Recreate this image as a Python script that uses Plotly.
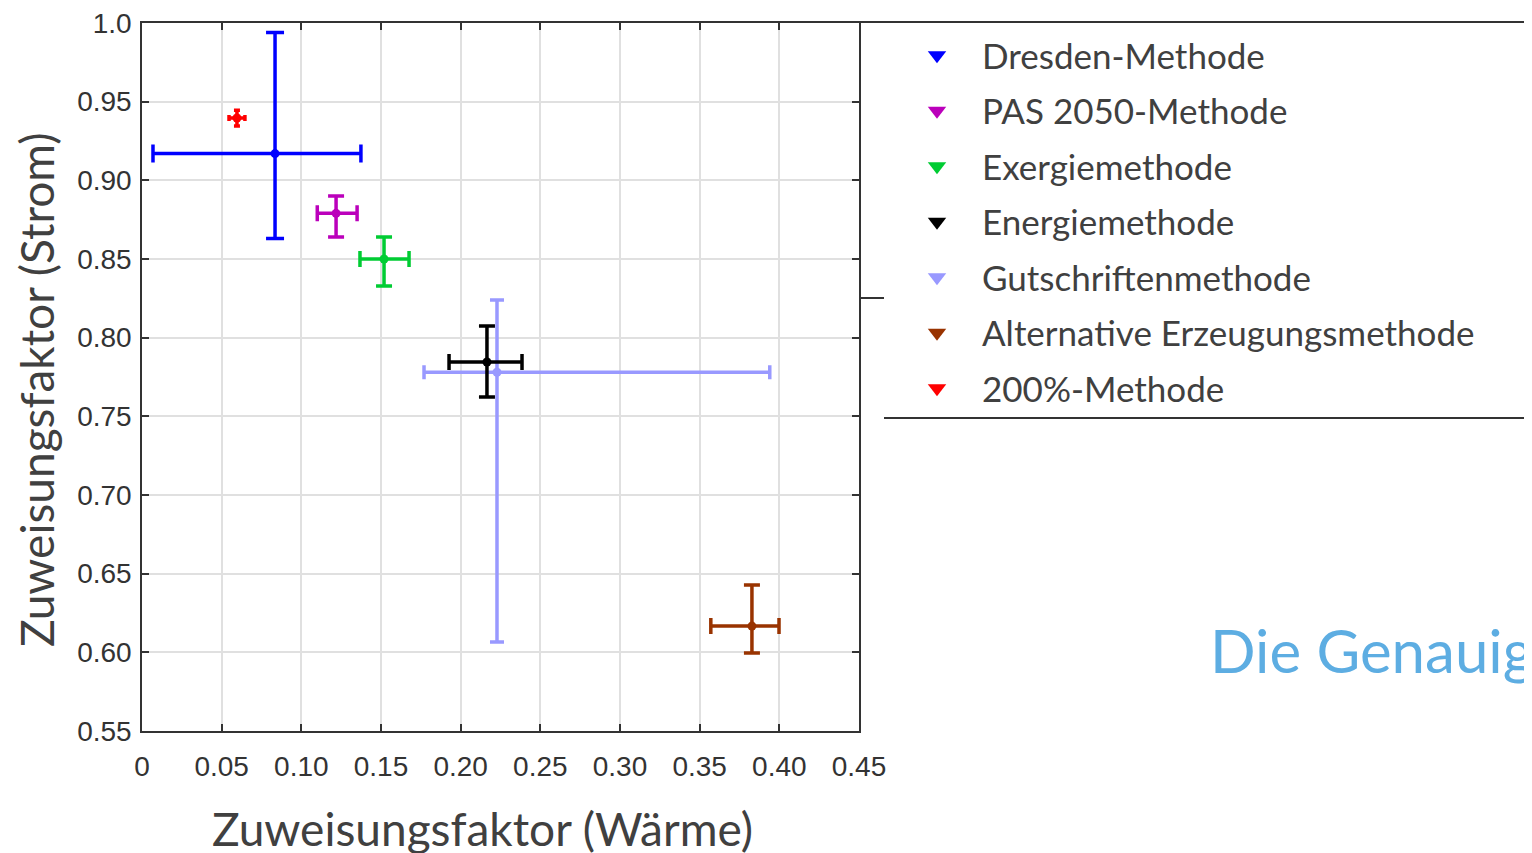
import plotly.graph_objects as go

# ---- data ----
methods = ["Dresden-Methode", "PAS 2050-Methode", "Exergiemethode", "Energiemethode",
           "Gutschriftenmethode", "Alternative Erzeugungsmethode", "200%-Methode"]
colors = ["#0000FF", "#BB00BB", "#00CC33", "#000000", "#9999FF", "#993300", "#FF0000"]
x_val = [0.0835, 0.1218, 0.1519, 0.2165, 0.2228, 0.3828, 0.0596]
y_val = [0.917, 0.879, 0.850, 0.7845, 0.778, 0.6167, 0.9396]
x_lo = [0.0069, 0.110, 0.1368, 0.1927, 0.177, 0.357, 0.0546]
x_hi = [0.1374, 0.135, 0.1676, 0.2385, 0.394, 0.3998, 0.0646]
y_lo = [0.863, 0.864, 0.8328, 0.7623, 0.6066, 0.5996, 0.9346]
y_hi = [0.994, 0.890, 0.864, 0.8074, 0.824, 0.6428, 0.9446]
cap_w = [9, 8, 8, 8, 7, 8, 3]
draw_order = [0, 1, 2, 4, 3, 5, 6]

x_ticks = [0, 0.05, 0.10, 0.15, 0.20, 0.25, 0.30, 0.35, 0.40, 0.45]
x_ticktext = ["0", "0.05", "0.10", "0.15", "0.20", "0.25", "0.30", "0.35", "0.40", "0.45"]
y_ticks = [0.55, 0.60, 0.65, 0.70, 0.75, 0.80, 0.85, 0.90, 0.95, 1.0]
y_ticktext = ["0.55", "0.60", "0.65", "0.70", "0.75", "0.80", "0.85", "0.90", "0.95", "1.0"]

x_title = "Zuweisungsfaktor (Wärme)"
y_title = "Zuweisungsfaktor (Strom)"
side_text = "Die Genauig"

fig = go.Figure()

for i in draw_order:
    fig.add_trace(go.Scatter(
        x=[x_val[i]], y=[y_val[i]], mode="markers", showlegend=False,
        marker=dict(color=colors[i], size=9, symbol="circle"),
        error_x=dict(type="data", symmetric=False,
                     array=[x_hi[i] - x_val[i]], arrayminus=[x_val[i] - x_lo[i]],
                     color=colors[i], thickness=3.5, width=cap_w[i]),
        error_y=dict(type="data", symmetric=False,
                     array=[y_hi[i] - y_val[i]], arrayminus=[y_val[i] - y_lo[i]],
                     color=colors[i], thickness=3.5, width=cap_w[i]),
    ))

for i, m in enumerate(methods):
    fig.add_trace(go.Scatter(
        x=[None], y=[None], mode="markers", name=m, legendgroup=m,
        marker=dict(color=colors[i], size=20, symbol="triangle-down"),
    ))

axis_common = dict(showline=True, linecolor="#333333", linewidth=1.5, mirror="ticks",
                   ticks="inside", ticklen=7, tickcolor="#333333", tickwidth=1.5,
                   showgrid=True, gridcolor="#e0e0e0", gridwidth=1.5, zeroline=False,
                   ticklabeloverflow="allow", automargin=False,
                   tickfont=dict(family="Liberation Sans, Arial", size=28, color="#333333"))

fig.update_xaxes(range=[0, 0.45], tickvals=x_ticks, ticktext=x_ticktext,
                 ticklabelstandoff=10, **axis_common)
fig.update_yaxes(range=[0.55, 1.0], tickvals=y_ticks, ticktext=y_ticktext,
                 ticklabelstandoff=3, **axis_common)

W, H = 1532, 853
DX, DY = 7, 8           # page-to-screenshot offset (body margin)
L, T = 141 - DX, 23 - DY
pw, ph = 717, 708
R, B = W - L - pw, H - T - ph

def px(xs):
    return (xs - DX - L) / pw

def py(ys):
    return (T + ph - (ys - DY)) / ph

fig.update_layout(
    width=W, height=H,
    margin=dict(l=L, r=R, t=T, b=B, autoexpand=False),
    plot_bgcolor="white", paper_bgcolor="white",
    legend=dict(x=px(891), y=py(26), xanchor="left", yanchor="top",
                font=dict(family="Lato, Open Sans", size=35, color="#404040"),
                itemwidth=80, tracegroupgap=7, bgcolor="rgba(0,0,0,0)",
                borderwidth=0),
    annotations=[
        dict(text=x_title, xref="paper", yref="paper", x=px(481), y=py(828),
             xanchor="center", yanchor="middle", showarrow=False,
             font=dict(family="Lato, Open Sans", size=46, color="#404040")),
        dict(text=y_title, xref="paper", yref="paper", x=px(35), y=py(390),
             xanchor="center", yanchor="middle", showarrow=False, textangle=-90,
             font=dict(family="Lato, Open Sans", size=46, color="#404040")),
        dict(text=side_text, xref="paper", yref="paper", x=px(1207), y=py(650),
             xanchor="left", yanchor="middle", showarrow=False,
             font=dict(family="Lato, Open Sans", size=60, color="#5DADE2")),
    ],
    shapes=[
        dict(type="line", xref="paper", yref="paper", x0=px(858), x1=px(1540),
             y0=py(22), y1=py(22), line=dict(color="#333333", width=2)),
        dict(type="line", xref="paper", yref="paper", x0=px(858), x1=px(883),
             y0=py(298), y1=py(298), line=dict(color="#333333", width=2)),
        dict(type="line", xref="paper", yref="paper", x0=px(883), x1=px(1540),
             y0=py(418), y1=py(418), line=dict(color="#333333", width=2)),
    ],
)

fig.write_html("out.html")
